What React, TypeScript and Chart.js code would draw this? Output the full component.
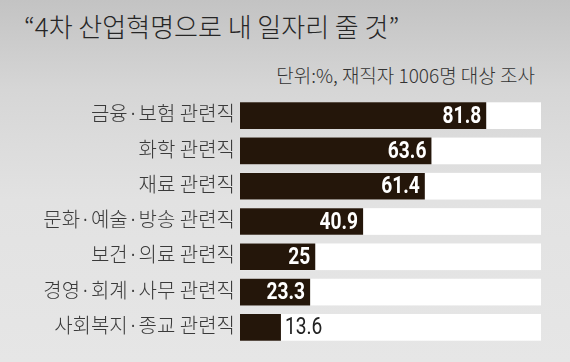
import React, { useEffect, useRef } from 'react';
import { Chart, registerables } from 'chart.js';

Chart.register(...registerables);

const title = '“4차 산업혁명으로 내 일자리 줄 것”';
const subtitle = '단위:%, 재직자 1006명 대상 조사';
const categories = [
  '금융·보험 관련직',
  '화학 관련직',
  '재료 관련직',
  '문화·예술·방송 관련직',
  '보건·의료 관련직',
  '경영·회계·사무 관련직',
  '사회복지·종교 관련직',
];
const values = [81.8, 63.6, 61.4, 40.9, 25, 23.3, 13.6];
const valueLabels = ['81.8', '63.6', '61.4', '40.9', '25', '23.3', '13.6'];
const AXIS_MIN = 0;
const AXIS_MAX = 100;

const BAR_COLOR = '#24160a';
const KR_FONT = "'Noto Sans CJK KR', 'Noto Sans', sans-serif";
const NUM_FONT = "Roboto, 'Liberation Sans', sans-serif";
const NUM_SQUEEZE = 0.8;

const trackPlugin = {
  id: 'track',
  beforeDatasetsDraw(chart: any) {
    const { ctx } = chart;
    const x = chart.scales.x;
    const meta = chart.getDatasetMeta(0);
    const x0 = x.getPixelForValue(AXIS_MIN);
    const x1 = x.getPixelForValue(AXIS_MAX);
    ctx.save();
    ctx.fillStyle = '#ffffff';
    meta.data.forEach((bar: any) => {
      const { y, height } = bar.getProps(['y', 'height'], true);
      ctx.fillRect(x0, y - height / 2, x1 - x0, height);
    });
    ctx.restore();
  },
};

const valuePlugin = {
  id: 'values',
  afterDatasetsDraw(chart: any) {
    const { ctx } = chart;
    const meta = chart.getDatasetMeta(0);
    meta.data.forEach((bar: any, i: number) => {
      const { x, y, base } = bar.getProps(['x', 'y', 'base'], true);
      const label = valueLabels[i];
      ctx.save();
      ctx.textBaseline = 'middle';
      ctx.font = `bold 24px ${NUM_FONT}`;
      const w = ctx.measureText(label).width * NUM_SQUEEZE;
      if (w + 12 < x - base) {
        ctx.fillStyle = '#ffffff';
        ctx.textAlign = 'right';
        ctx.translate(x - 5, y + 1);
      } else {
        ctx.font = `24px ${NUM_FONT}`;
        ctx.fillStyle = '#222222';
        ctx.textAlign = 'left';
        ctx.translate(x + 4, y + 1);
      }
      ctx.scale(NUM_SQUEEZE, 1);
      ctx.fillText(label, 0, 0);
      ctx.restore();
    });
  },
};

export default function App() {
  const canvasRef = useRef<HTMLCanvasElement | null>(null);

  useEffect(() => {
    document.body.style.margin = '0';
    const canvas = canvasRef.current;
    if (!canvas) return;
    const chart = new Chart(canvas, {
      type: 'bar',
      data: {
        labels: categories,
        datasets: [
          {
            data: values,
            backgroundColor: BAR_COLOR,
            borderWidth: 0,
            barPercentage: 0.756,
            categoryPercentage: 1,
          },
        ],
      },
      options: {
        indexAxis: 'y',
        responsive: false,
        animation: false,
        devicePixelRatio: 1,
        layout: { padding: { top: 98, bottom: 14, left: 0, right: 29 } },
        plugins: {
          legend: { display: false },
          title: { display: false },
          tooltip: { enabled: false },
        },
        scales: {
          x: {
            display: false,
            min: AXIS_MIN,
            max: AXIS_MAX,
          },
          y: {
            grid: { display: false, drawTicks: false },
            border: { display: false },
            ticks: {
              color: '#3a3a3a',
              font: { family: KR_FONT, size: 20, weight: '300' },
              padding: 5,
              labelOffset: -2,
            },
            afterFit(scale: any) {
              scale.width = 240;
            },
          },
        },
      },
      plugins: [trackPlugin, valuePlugin],
    });
    return () => chart.destroy();
  }, []);

  return (
    <div
      style={{
        position: 'relative',
        width: 570,
        height: 362,
        overflow: 'hidden',
        background:
          'linear-gradient(to bottom, #c3c3c3 0px, #d6d6d6 90px, #e2e2e2 200px, #e6e6e6 362px)',
      }}
    >
      <div
        style={{
          position: 'absolute',
          left: 24,
          top: 11,
          fontFamily: KR_FONT,
          fontSize: 26,
          fontWeight: 300,
          lineHeight: '30px',
          color: '#262626',
          whiteSpace: 'nowrap',
        }}
      >
        {title}
      </div>
      <div
        style={{
          position: 'absolute',
          right: 35,
          top: 63,
          fontFamily: KR_FONT,
          fontSize: 19,
          fontWeight: 300,
          lineHeight: '24px',
          color: '#333333',
          whiteSpace: 'nowrap',
        }}
      >
        {subtitle}
      </div>
      <canvas
        ref={canvasRef}
        width={570}
        height={362}
        style={{ position: 'absolute', left: 0, top: 0, width: 570, height: 362 }}
      />
    </div>
  );
}
